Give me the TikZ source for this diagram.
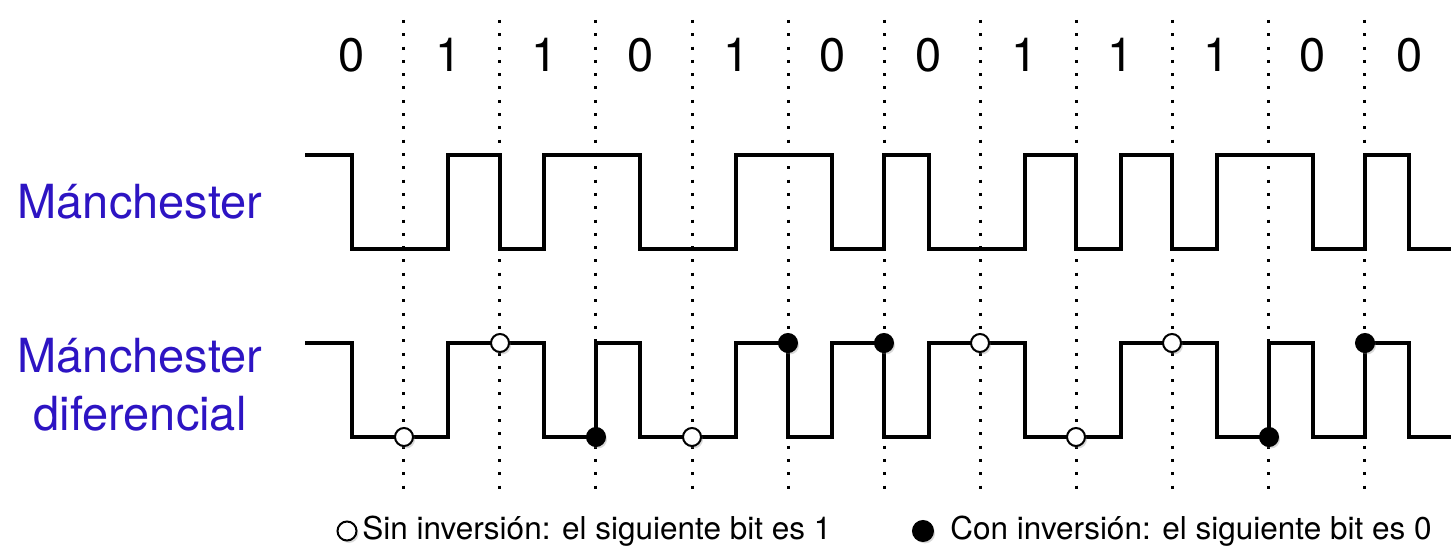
\documentclass[tikz,border=0pt]{standalone}
\usepackage{fontspec}
\setmainfont{TeX Gyre Heros}
\usepackage{tikz}
\usetikzlibrary{shadows}
\definecolor{labelblue}{RGB}{45,20,195}

\begin{document}
\begin{tikzpicture}
[x=0.5pt,y=-0.5pt,
sig/.style={line width=2.1pt},
grid/.style={line width=1.5pt,dash pattern=on 1.5pt off 5.15pt},
bitlabel/.style={font=\fontsize{23.5}{28}\selectfont,anchor=base},
codename/.style={font=\fontsize{23.5}{29}\selectfont,text=labelblue,align=center,anchor=base},
legend/.style={font=\fontsize{15.75}{19}\selectfont,anchor=base west,inner sep=0pt},
nochange/.style={circle,draw,line width=1pt,fill=white,minimum size=9pt,inner sep=0pt,drop shadow={shadow xshift=1pt,shadow yshift=-1.2pt,opacity=0.3}},
change/.style={nochange,fill=black}]

\useasboundingbox (0,0) rectangle (1451,551);

\foreach \k in {0,...,10}
\draw[grid] ({403.7+96.1*\k},20) -- ({403.7+96.1*\k},492);

\foreach \b [count=\i from 0] in {0,1,1,0,1,0,0,1,1,1,0,0}
\node[bitlabel] (bit\i) at ({352+96.1*\i},72) {\b};

\node[codename] (manch) at (140,218) {Mánchester};
\node[codename] (diffmanch) at (140,430) {Mánchester\\diferencial};

\draw[sig] (305,155) \foreach \x/\y in {352/249,448/155,500/249,544/155,640/249,736/155,832/249,884/155,
929/249,1025/155,1076/249,1121/155,1172/249,1217/155,1313/249,1365/155,1409/249} {-| (\x,\y)} -- (1451,249);

\draw[sig] (305,343) \foreach \x/\y in {352/437,448/343,544/437,596/343,640/437,736/343,788/437,832/343,884/437,
929/343,1025/437,1121/343,1217/437,1269/343,1313/437,1365/343,1409/437} {-| (\x,\y)} -- (1451,437);

\foreach \x/\y/\s [count=\k from 0] in {404/437/nochange,500/343/nochange,596/437/change,692/437/nochange,
788/343/change,884/343/change,980/343/nochange,1076/437/nochange,1172/343/nochange,1269/437/change,1365/343/change}
\node[\s] (mark\k) at (\x,\y) {};

\node[legend] (keeptext) at (362,539) {Sin inversión: el siguiente bit es 1};
\node[nochange,minimum size=9.5pt] (keepmark) at (347,531) {};
\node[legend] (fliptext) at (950,539) {Con inversión: el siguiente bit es 0};
\node[change,minimum size=10pt] (flipmark) at (923,531) {};

\end{tikzpicture}
\end{document}
